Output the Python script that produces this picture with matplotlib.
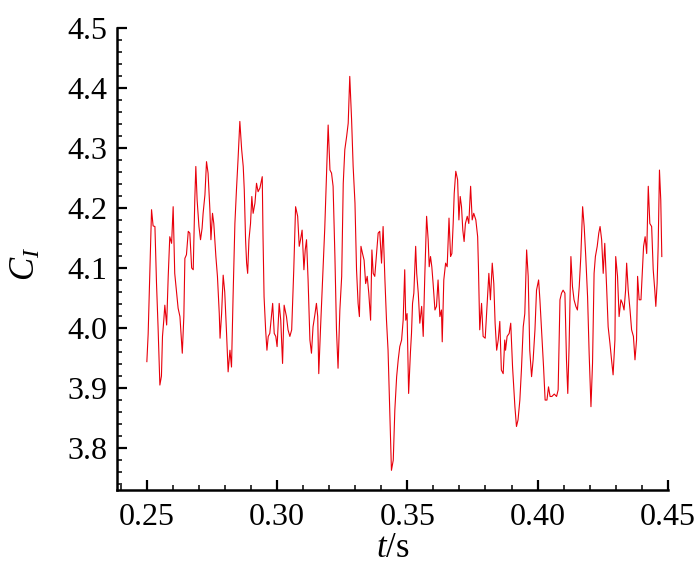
import matplotlib
matplotlib.use("Agg")
import matplotlib.pyplot as plt
from matplotlib.ticker import MultipleLocator, FormatStrFormatter

# time (s) and lift-type coefficient C_I
t = [
    0.2500, 0.2505, 0.2518, 0.2524, 0.2531, 0.2537, 0.2543, 0.2550, 0.2556, 0.2560,
    0.2565, 0.2569, 0.2576, 0.2582, 0.2588, 0.2595, 0.2601, 0.2607, 0.2620, 0.2627,
    0.2636, 0.2642, 0.2646, 0.2652, 0.2659, 0.2665, 0.2672, 0.2678, 0.2684, 0.2688,
    0.2693, 0.2700, 0.2706, 0.2712, 0.2716, 0.2723, 0.2729, 0.2735, 0.2742, 0.2746,
    0.2752, 0.2757, 0.2765, 0.2771, 0.2778, 0.2781, 0.2787, 0.2793, 0.2799, 0.2806,
    0.2812, 0.2819, 0.2825, 0.2831, 0.2838, 0.2844, 0.2850, 0.2857, 0.2864, 0.2870,
    0.2874, 0.2879, 0.2883, 0.2887, 0.2892, 0.2898, 0.2903, 0.2908, 0.2915, 0.2921,
    0.2927, 0.2934, 0.2943, 0.2946, 0.2950, 0.2956, 0.2961, 0.2966, 0.2972, 0.2983,
    0.2989, 0.2995, 0.3000, 0.3008, 0.3014, 0.3021, 0.3027, 0.3036, 0.3042, 0.3049,
    0.3056, 0.3064, 0.3071, 0.3079, 0.3085, 0.3090, 0.3096, 0.3103, 0.3108, 0.3113,
    0.3119, 0.3126, 0.3132, 0.3138, 0.3145, 0.3151, 0.3156, 0.3160, 0.3167, 0.3173,
    0.3179, 0.3183, 0.3190, 0.3196, 0.3203, 0.3209, 0.3215, 0.3222, 0.3228, 0.3234,
    0.3241, 0.3248, 0.3254, 0.3260, 0.3267, 0.3273, 0.3279, 0.3286, 0.3292, 0.3299,
    0.3305, 0.3311, 0.3316, 0.3322, 0.3328, 0.3334, 0.3340, 0.3346, 0.3352, 0.3359,
    0.3364, 0.3369, 0.3375, 0.3382, 0.3388, 0.3394, 0.3401, 0.3407, 0.3414, 0.3420,
    0.3426, 0.3433, 0.3439, 0.3446, 0.3452, 0.3459, 0.3465, 0.3471, 0.3478, 0.3484,
    0.3490, 0.3494, 0.3499, 0.3505, 0.3512, 0.3516, 0.3520, 0.3525, 0.3532, 0.3536,
    0.3542, 0.3548, 0.3555, 0.3561, 0.3567, 0.3574, 0.3580, 0.3584, 0.3589, 0.3594,
    0.3599, 0.3606, 0.3612, 0.3618, 0.3625, 0.3631, 0.3634, 0.3640, 0.3647, 0.3653,
    0.3660, 0.3666, 0.3671, 0.3676, 0.3680, 0.3686, 0.3693, 0.3698, 0.3703, 0.3708,
    0.3713, 0.3718, 0.3723, 0.3730, 0.3736, 0.3743, 0.3749, 0.3755, 0.3763, 0.3770,
    0.3773, 0.3778, 0.3785, 0.3791, 0.3799, 0.3806, 0.3813, 0.3819, 0.3826, 0.3832,
    0.3837, 0.3843, 0.3849, 0.3855, 0.3861, 0.3868, 0.3874, 0.3877, 0.3883, 0.3891,
    0.3897, 0.3904, 0.3909, 0.3913, 0.3919, 0.3925, 0.3932, 0.3938, 0.3945, 0.3951,
    0.3958, 0.3964, 0.3970, 0.3977, 0.3983, 0.3990, 0.3996, 0.4004, 0.4009, 0.4016,
    0.4023, 0.4029, 0.4036, 0.4042, 0.4048, 0.4055, 0.4064, 0.4073, 0.4079, 0.4086,
    0.4092, 0.4098, 0.4105, 0.4111, 0.4116, 0.4121, 0.4128, 0.4134, 0.4140, 0.4147,
    0.4153, 0.4160, 0.4166, 0.4173, 0.4179, 0.4185, 0.4192, 0.4198, 0.4205, 0.4211,
    0.4217, 0.4222, 0.4229, 0.4235, 0.4240, 0.4246, 0.4252, 0.4258, 0.4265, 0.4271,
    0.4278, 0.4284, 0.4290, 0.4297, 0.4300, 0.4307, 0.4313, 0.4320, 0.4326, 0.4332,
    0.4338, 0.4342, 0.4348, 0.4355, 0.4361, 0.4368, 0.4374, 0.4380, 0.4384, 0.4390,
    0.4397, 0.4402, 0.4407, 0.4413, 0.4419, 0.4425, 0.4431, 0.4438, 0.4444, 0.4450,
    0.4454, 0.4459, 0.4463, 0.4468, 0.4473, 0.4477,
]
c_i = [
    3.944, 3.990, 4.197, 4.170, 4.169, 4.075, 4.002, 3.905, 3.920, 3.986,
    4.013, 4.038, 4.005, 4.086, 4.152, 4.141, 4.202, 4.091, 4.033, 4.019,
    3.958, 4.019, 4.116, 4.122, 4.161, 4.158, 4.100, 4.097, 4.213, 4.269,
    4.213, 4.169, 4.147, 4.166, 4.191, 4.222, 4.277, 4.258, 4.197, 4.147,
    4.191, 4.174, 4.119, 4.086, 4.024, 3.983, 4.024, 4.088, 4.060, 3.991,
    3.927, 3.963, 3.935, 4.052, 4.174, 4.230, 4.280, 4.344, 4.297, 4.269,
    4.230, 4.147, 4.108, 4.091, 4.147, 4.174, 4.219, 4.191, 4.208, 4.241,
    4.227, 4.233, 4.252, 4.152, 4.052, 3.997, 3.963, 3.986, 3.991, 4.041,
    3.991, 3.986, 3.969, 4.041, 4.013, 3.941, 4.038, 4.019, 3.997, 3.986,
    3.997, 4.097, 4.202, 4.186, 4.136, 4.147, 4.163, 4.097, 4.130, 4.147,
    4.080, 3.980, 3.958, 4.002, 4.022, 4.041, 4.019, 3.924, 4.002, 4.063,
    4.124, 4.166, 4.258, 4.338, 4.263, 4.258, 4.236, 4.119, 3.997, 3.933,
    4.030, 4.086, 4.241, 4.297, 4.319, 4.341, 4.419, 4.347, 4.269, 4.208,
    4.097, 4.041, 4.019, 4.136, 4.124, 4.113, 4.074, 4.086, 4.058, 4.013,
    4.130, 4.091, 4.086, 4.124, 4.158, 4.161, 4.108, 4.169, 4.080, 4.013,
    3.963, 3.858, 3.763, 3.780, 3.863, 3.919, 3.947, 3.969, 3.980, 4.013,
    4.097, 4.013, 4.024, 3.891, 3.960, 3.991, 4.041, 4.058, 4.136, 4.091,
    4.058, 4.008, 4.036, 3.986, 4.086, 4.186, 4.147, 4.102, 4.119, 4.102,
    4.074, 4.030, 4.036, 4.080, 4.019, 4.030, 3.977, 4.080, 4.108, 4.102,
    4.183, 4.119, 4.124, 4.174, 4.224, 4.261, 4.247, 4.180, 4.219, 4.202,
    4.163, 4.144, 4.174, 4.186, 4.174, 4.236, 4.180, 4.191, 4.180, 4.152,
    4.102, 3.997, 4.041, 3.986, 3.983, 4.036, 4.091, 4.047, 4.108, 4.074,
    4.008, 3.963, 3.980, 4.011, 3.930, 3.924, 3.980, 3.963, 3.986, 3.991,
    4.008, 3.935, 3.897, 3.869, 3.836, 3.847, 3.880, 3.930, 4.002, 4.024,
    4.130, 4.086, 3.963, 3.919, 3.947, 3.997, 4.063, 4.080, 4.047, 3.991,
    3.935, 3.880, 3.880, 3.902, 3.886, 3.886, 3.890, 3.886, 3.897, 4.047,
    4.058, 4.063, 4.058, 3.947, 3.891, 3.969, 4.119, 4.069, 4.047, 4.036,
    4.030, 4.069, 4.119, 4.202, 4.169, 4.119, 4.052, 3.958, 3.869, 3.941,
    4.091, 4.119, 4.136, 4.158, 4.169, 4.147, 4.091, 4.141, 4.069, 4.002,
    3.974, 3.947, 3.922, 3.980, 4.119, 4.086, 4.019, 4.047, 4.041, 4.030,
    4.063, 4.108, 4.063, 4.030, 3.997, 3.986, 3.947, 3.980, 4.086, 4.047,
    4.047, 4.091, 4.136, 4.152, 4.124, 4.236, 4.174, 4.169, 4.097, 4.063,
    4.036, 4.074, 4.136, 4.263, 4.213, 4.119,
]

plt.rcParams["font.family"] = ["Liberation Serif", "DejaVu Serif"]
plt.rcParams["mathtext.fontset"] = "custom"
plt.rcParams["mathtext.rm"] = "Liberation Serif"
plt.rcParams["mathtext.it"] = "Liberation Serif:italic"

fig = plt.figure(figsize=(7.0, 5.78), dpi=100)
ax = fig.add_axes([0.167, 0.152, 0.787, 0.800])

ax.plot(t, c_i, color="#e8000b", lw=0.8)

ax.set_xlim(0.2385, 0.45)
ax.set_ylim(3.73, 4.5)
ax.xaxis.set_major_locator(MultipleLocator(0.05))
ax.xaxis.set_minor_locator(MultipleLocator(0.01))
ax.yaxis.set_major_locator(MultipleLocator(0.1))
ax.yaxis.set_minor_locator(MultipleLocator(0.02))
ax.xaxis.set_major_formatter(FormatStrFormatter("%.2f"))
ax.yaxis.set_major_formatter(FormatStrFormatter("%.1f"))

for side in ("top", "right"):
    ax.spines[side].set_visible(False)
for side in ("left", "bottom"):
    ax.spines[side].set_linewidth(1.8)
    ax.spines[side].set_color("black")

ax.tick_params(which="major", direction="in", length=7.5, width=1.6,
               labelsize=23, pad=7, colors="black")
ax.tick_params(which="minor", direction="in", length=3.8, width=1.1)
ax.tick_params(axis="x", which="major", pad=9)

ax.set_xlabel(r"$t$/s", fontsize=25, labelpad=0)
ax.set_ylabel(r"$C_I$", fontsize=25)
ax.yaxis.set_label_coords(-0.135, 0.49)

fig.savefig("out.png", dpi=100)
